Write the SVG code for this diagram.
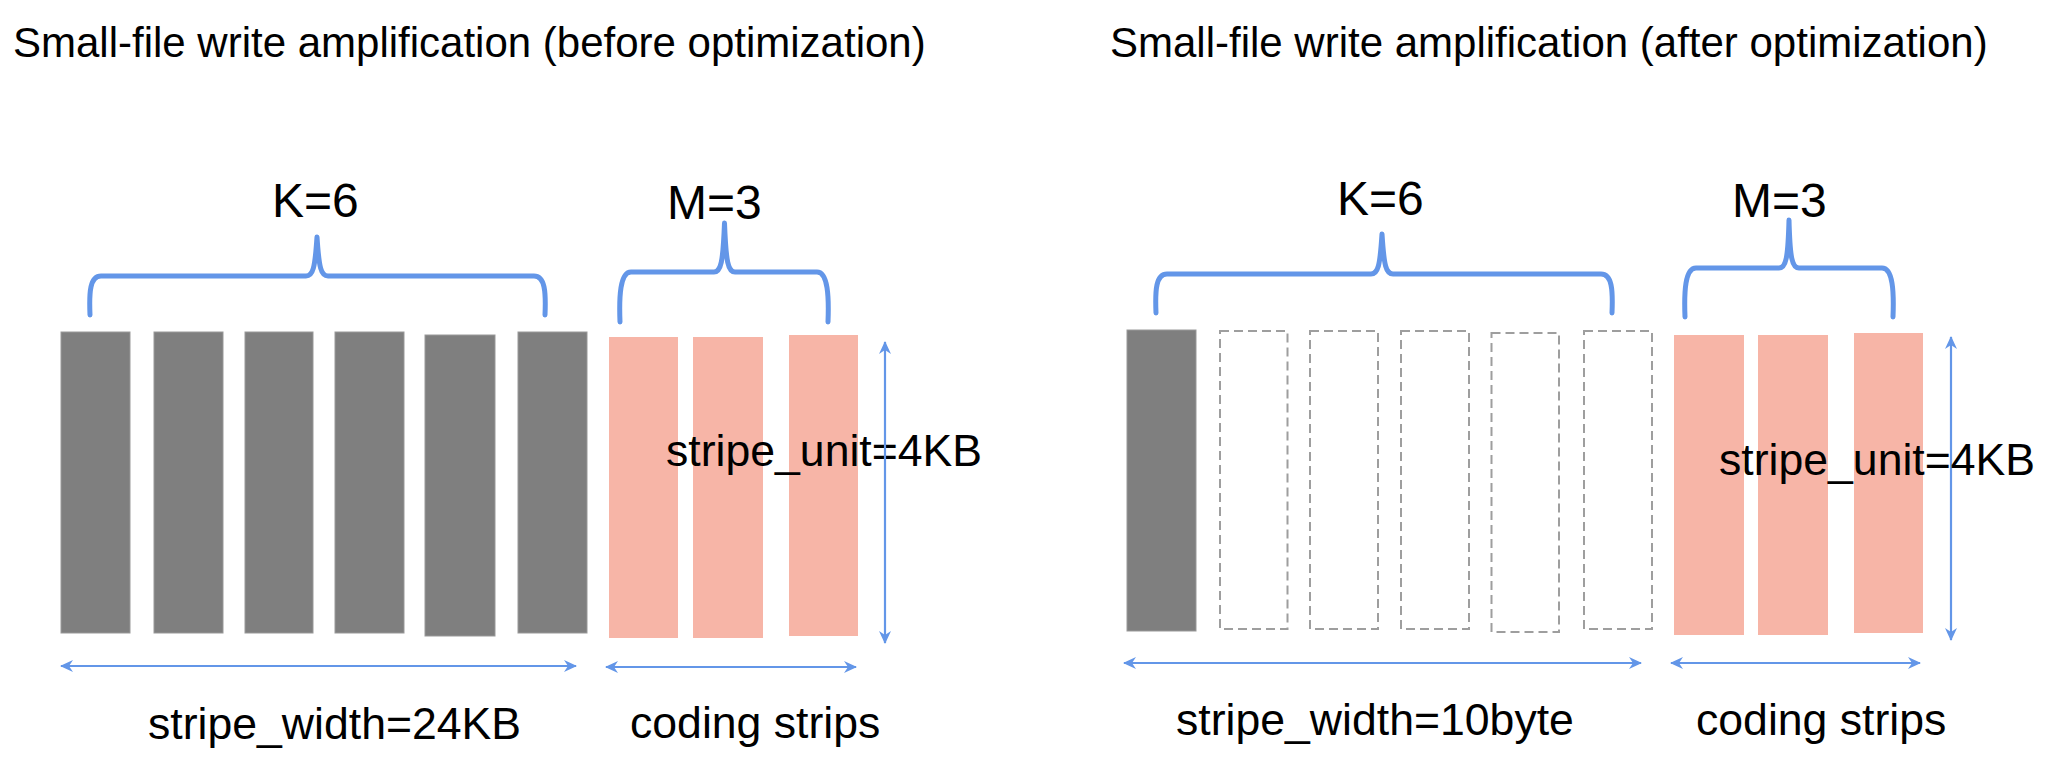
<svg xmlns="http://www.w3.org/2000/svg" width="2048" height="761" viewBox="0 0 2048 761">
<defs>
<style>
text{font-family:"Liberation Sans",Arial,sans-serif;fill:#000}
.title{font-size:42px}
.big{font-size:48px}
.lbl{font-size:44.6px}
.data{fill:#7f7f7f;stroke:#999;stroke-width:1}
.code{fill:#f7b5a7}
.empty{fill:#fff;stroke:#9e9e9e;stroke-width:2;stroke-dasharray:9 5}
.brace{fill:none;stroke:#6396e8;stroke-width:5;stroke-linecap:round;stroke-linejoin:round}
.dim{fill:none;stroke:#6396e8;stroke-width:2.2;marker-start:url(#ah);marker-end:url(#ah)}
</style>
<marker id="ah" viewBox="0 0 14 14" refX="12" refY="7" markerWidth="14" markerHeight="14" markerUnits="userSpaceOnUse" orient="auto-start-reverse">
<path d="M0,1 L13,7 L0,13 L4,7 z" fill="#6396e8"/>
</marker>
</defs>
<rect width="2048" height="761" fill="#fff"/>

<g id="left-panel">
<text id="title-before" class="title" x="13" y="57">Small-file write amplification (before optimization)</text>
<g id="left-data">
<rect class="data" x="61" y="332" width="69" height="301"/>
<rect class="data" x="154" y="332" width="69" height="301"/>
<rect class="data" x="245" y="332" width="68" height="301"/>
<rect class="data" x="335" y="332" width="69" height="301"/>
<rect class="data" x="425" y="335" width="70" height="301"/>
<rect class="data" x="518" y="332" width="69" height="301"/>
</g>
<g id="left-coding">
<rect class="code" x="609" y="337" width="69" height="301"/>
<rect class="code" x="693" y="337" width="70" height="301"/>
<rect class="code" x="789" y="335" width="69" height="301"/>
</g>
<text id="left-k" class="big" x="272" y="217">K=6</text>
<text id="left-m" class="big" x="667" y="219">M=3</text>
<text id="left-unit" class="lbl" x="666" y="466">stripe_unit=4KB</text>
<text id="left-width" class="lbl" x="148" y="739">stripe_width=24KB</text>
<text id="left-coding-label" class="lbl" x="630" y="738">coding strips</text>
</g>

<g id="right-panel">
<text id="title-after" class="title" x="1110" y="57">Small-file write amplification (after optimization)</text>
<g id="right-data">
<rect class="data" x="1127" y="330" width="69" height="301"/>
<rect class="empty" x="1220" y="331" width="67.5" height="298"/>
<rect class="empty" x="1310" y="331" width="68" height="298"/>
<rect class="empty" x="1401" y="331" width="68" height="298"/>
<rect class="empty" x="1491.5" y="333" width="67.5" height="299"/>
<rect class="empty" x="1584" y="331" width="68" height="298"/>
</g>
<g id="right-coding">
<rect class="code" x="1674" y="335" width="70" height="300"/>
<rect class="code" x="1758" y="335" width="70" height="300"/>
<rect class="code" x="1854" y="333" width="69" height="300"/>
</g>
<text id="right-k" class="big" x="1337" y="215">K=6</text>
<text id="right-m" class="big" x="1732" y="217">M=3</text>
<text id="right-width" class="lbl" x="1176" y="735">stripe_width=10byte</text>
<text id="right-coding-label" class="lbl" x="1696" y="735">coding strips</text>
</g>

<g id="connectors">
<path class="brace" d="M90,315 C89,292 90,276 101,276 L306,276 C313,276 315,268 317,237 C319,268 321,276 328,276 L534,276 C545,276 546,292 545,315"/>
<path class="brace" d="M620,322 C619,297 620,272 631,272 L714,272 C721,272 723,262 724.5,223 C726,262 728,272 735,272 L817,272 C828,272 829,297 828,322"/>
<path class="brace" d="M1156,313 C1155,290 1156,274 1167,274 L1371,274 C1378,274 1380,266 1382,234 C1384,266 1386,274 1393,274 L1601,274 C1612,274 1613,290 1612,313"/>
<path class="brace" d="M1685,317 C1684,292 1685,268 1696,268 L1779,268 C1786,268 1788,258 1789,220 C1790,258 1792,268 1799,268 L1882,268 C1893,268 1894,292 1893,317"/>
<line class="dim" x1="61" y1="666" x2="576" y2="666"/>
<line class="dim" x1="606" y1="667" x2="856" y2="667"/>
<line class="dim" x1="885" y1="342" x2="885" y2="643"/>
<line class="dim" x1="1124" y1="663" x2="1641" y2="663"/>
<line class="dim" x1="1671" y1="663" x2="1920" y2="663"/>
<line class="dim" x1="1951" y1="337" x2="1951" y2="640"/>
</g>
<text id="right-unit" class="lbl" x="1719" y="475">stripe_unit=4KB</text>
</svg>
